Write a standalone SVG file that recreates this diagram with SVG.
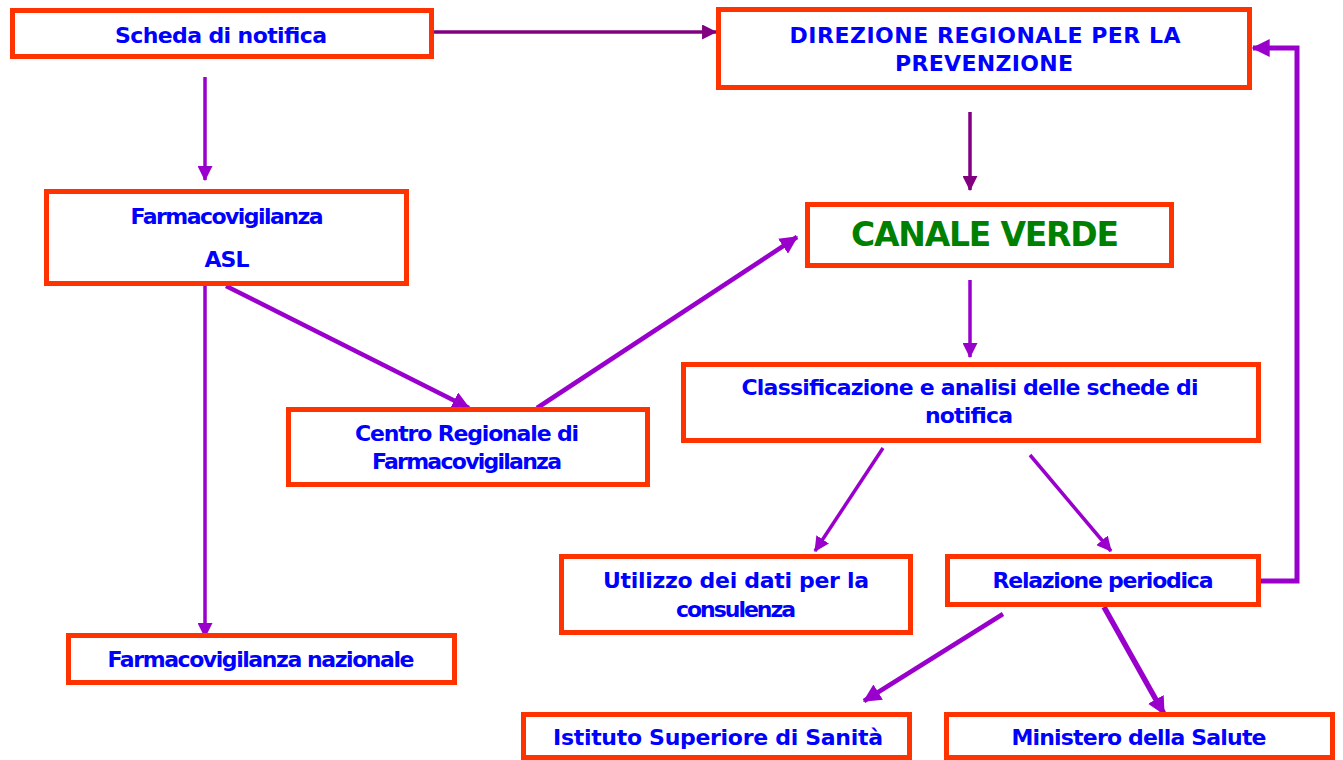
<svg xmlns="http://www.w3.org/2000/svg" width="1343" height="760" viewBox="0 0 1343 760">
<style>
.box{fill:#FFFFFF;stroke:#FF3300;stroke-width:5}
.t{font-family:"DejaVu Sans","Liberation Sans",sans-serif;font-weight:bold;font-size:22px;fill:#0000FF;text-anchor:middle}
.cv{font-family:"DejaVu Sans","Liberation Sans",sans-serif;font-weight:bold;font-size:33px;fill:#008000;text-anchor:middle}
.c{fill:none;stroke:#9900CC;stroke-width:3.5}
.d{fill:none;stroke:#800080;stroke-width:3.5}
</style>
<defs>
<marker id="ap" viewBox="0 0 14 14" markerWidth="15" markerHeight="15" refX="13" refY="7" orient="auto" markerUnits="userSpaceOnUse"><path d="M0,0 L14,7 L0,14 z" fill="#9900CC"/></marker>
<marker id="apl" viewBox="0 0 14 14" markerWidth="18" markerHeight="18" refX="13" refY="7" orient="auto" markerUnits="userSpaceOnUse"><path d="M0,0 L14,7 L0,14 z" fill="#9900CC"/></marker>
<marker id="ad" viewBox="0 0 14 14" markerWidth="15" markerHeight="15" refX="13" refY="7" orient="auto" markerUnits="userSpaceOnUse"><path d="M0,0 L14,7 L0,14 z" fill="#800080"/></marker>
</defs>
<rect width="1343" height="760" fill="#FFFFFF"/>
<g id="connectors">
<path class="c" d="M205,77 L205,180" marker-end="url(#ap)"/>
<path class="d" d="M432,32 L716,32" marker-end="url(#ad)"/>
<path class="d" d="M970,112 L970,190" marker-end="url(#ad)"/>
<path class="c" style="stroke-width:4.5" d="M226,286 L469,408" marker-end="url(#apl)"/>
<path class="c" d="M205,284 L205,637" marker-end="url(#ap)"/>
<path class="c" style="stroke-width:4.5" d="M537,408 L797,237" marker-end="url(#apl)"/>
<path class="c" d="M970,280 L970,357" marker-end="url(#ap)"/>
<path class="c" d="M883,448 L815,551" marker-end="url(#ap)"/>
<path class="c" d="M1030,455 L1111,551" marker-end="url(#ap)"/>
<path class="c" style="stroke-width:5" d="M1259,581 L1297,581 L1297,48 L1253,48" marker-end="url(#apl)"/>
<path class="c" style="stroke-width:4.5" d="M1003,614 L864,701" marker-end="url(#apl)"/>
<path class="c" style="stroke-width:5.5" d="M1104,607 L1164,714" marker-end="url(#apl)"/>
</g>
<g id="scheda"><rect class="box" x="12.5" y="10.5" width="419" height="46"/><text class="t" x="221" y="43" textLength="212">Scheda di notifica</text></g>
<g id="direzione"><rect class="box" x="718.5" y="9.5" width="531" height="78"/><text class="t" x="985" y="43" textLength="391">DIREZIONE REGIONALE PER LA</text><text class="t" x="984" y="71" textLength="178">PREVENZIONE</text></g>
<g id="asl"><rect class="box" x="46.5" y="191.5" width="360" height="92"/><text class="t" x="227" y="224" textLength="193">Farmacovigilanza</text><text class="t" x="227" y="267" textLength="45">ASL</text></g>
<g id="canale"><rect class="box" x="807.5" y="204.5" width="364" height="61"/><text class="cv" x="985" y="246" textLength="268">CANALE VERDE</text></g>
<g id="centro"><rect class="box" x="288.5" y="409.5" width="359" height="75"/><text class="t" x="467" y="441" textLength="224">Centro Regionale di</text><text class="t" x="467" y="469" textLength="190">Farmacovigilanza</text></g>
<g id="classificazione"><rect class="box" x="683.5" y="364.5" width="575" height="76"/><text class="t" x="970" y="395" textLength="457">Classificazione e analisi delle schede di</text><text class="t" x="969" y="423" textLength="88">notifica</text></g>
<g id="utilizzo"><rect class="box" x="561.5" y="556.5" width="349" height="76"/><text class="t" x="736" y="588" textLength="266">Utilizzo dei dati per la</text><text class="t" x="736" y="617" textLength="120">consulenza</text></g>
<g id="relazione"><rect class="box" x="947.5" y="556.5" width="311" height="48"/><text class="t" x="1103" y="588" textLength="221">Relazione periodica</text></g>
<g id="nazionale"><rect class="box" x="68.5" y="635.5" width="386" height="47"/><text class="t" x="261" y="667" textLength="307">Farmacovigilanza nazionale</text></g>
<g id="istituto"><rect class="box" x="523.5" y="714.5" width="386" height="43"/><text class="t" x="718" y="745" textLength="330">Istituto Superiore di Sanità</text></g>
<g id="ministero"><rect class="box" x="946.5" y="714.5" width="386" height="43"/><text class="t" x="1139" y="745" textLength="255">Ministero della Salute</text></g>
</svg>
